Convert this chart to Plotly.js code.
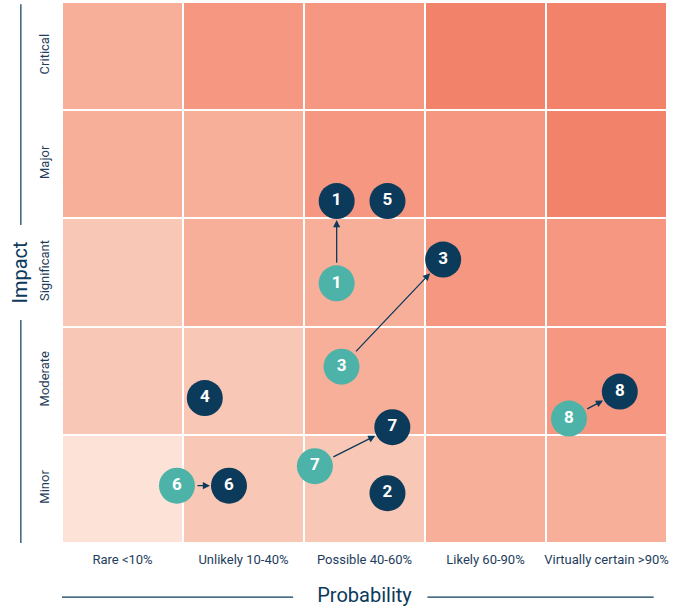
<!DOCTYPE html>
<html>
<head>
<meta charset="utf-8">
<script src="https://cdn.plot.ly/plotly-3.0.1.min.js"></script>
<style>html,body{margin:0;padding:0;background:#fff}#chart{width:680px;height:607px}</style>
</head>
<body>
<div id="chart"></div>
<script>
// Categories
const probabilityLabels = ["Rare <10%", "Unlikely 10-40%", "Possible 40-60%", "Likely 60-90%", "Virtually certain >90%"];
const impactLabels = ["Minor", "Moderate", "Significant", "Major", "Critical"];
// Risk level per cell (rows: Minor..Critical, cols: Rare..Virtually certain)
const riskLevels = [
  [0, 1, 1, 2, 2],
  [1, 1, 2, 2, 3],
  [1, 2, 2, 3, 3],
  [2, 2, 3, 3, 4],
  [2, 3, 3, 4, 4]
];
// Previous (teal) risk positions
const prevIds = ["1", "3", "6", "7", "8"];
const prevX = [2.27, 2.31, 0.95, 2.09, 4.19];
const prevY = [2.40, 1.63, 0.53, 0.71, 1.15];
// Current (navy) risk positions
const currIds = ["1", "5", "3", "4", "6", "7", "2", "8"];
const currX = [2.27, 2.69, 3.15, 1.18, 1.38, 2.73, 2.69, 4.61];
const currY = [3.16, 3.16, 2.62, 1.34, 0.53, 1.07, 0.46, 1.40];

const navy = "#0B3A5B";
const teal = "#4DB3A9";
const cellColors = ["#FCE2D7", "#F9C7B5", "#F7AF9A", "#F69782", "#F3826B"];

const cx = probabilityLabels.map((_, i) => i + 0.5);
const cy = impactLabels.map((_, i) => i + 0.5);

const heat = {
  type: "heatmap", x: cx, y: cy, z: riskLevels, zmin: 0, zmax: 4,
  colorscale: cellColors.map((c, i) => [i / 4, c]),
  showscale: false, xgap: 2, ygap: 2, hoverinfo: "skip"
};
const numFont = {family: "Roboto, sans-serif", size: 17, color: "#ffffff", weight: 700};
const prev = {
  type: "scatter", mode: "markers+text", x: prevX, y: prevY, text: prevIds,
  textposition: "middle center", textfont: numFont,
  marker: {size: 36, color: teal, line: {width: 0}}, hoverinfo: "text", showlegend: false
};
const curr = {
  type: "scatter", mode: "markers+text", x: currX, y: currY, text: currIds,
  textposition: "middle center", textfont: numFont,
  marker: {size: 36, color: navy, line: {width: 0}}, hoverinfo: "text", showlegend: false
};

// Arrows from previous to current position for matching ids
const annotations = [];
prevIds.forEach((id, i) => {
  const j = currIds.indexOf(id);
  annotations.push({
    x: currX[j], y: currY[j], ax: prevX[i], ay: prevY[i],
    xref: "x", yref: "y", axref: "x", ayref: "y",
    showarrow: true, arrowhead: 2, arrowsize: 1.1, arrowwidth: 1.3,
    arrowcolor: navy, standoff: 19, startstandoff: 19, text: ""
  });
});

const tickFont = {family: "Roboto, sans-serif", size: 13, color: "#1E3D5C", stretch: "condensed"};
const layout = {
  width: 680, height: 607,
  margin: {l: 62, r: 13, t: 2, b: 64},
  paper_bgcolor: "#ffffff", plot_bgcolor: "#ffffff",
  showlegend: false,
  xaxis: {
    range: [0, 5], tickvals: cx, ticktext: probabilityLabels, tickfont: tickFont,
    showgrid: false, zeroline: false, showline: false, ticks: "", fixedrange: true,
    ticklabelstandoff: 7,
    title: {text: "Probability", font: {family: "Roboto, sans-serif", size: 20, color: navy}, standoff: 24}
  },
  yaxis: {
    range: [0, 5], tickvals: cy, ticktext: impactLabels, tickfont: tickFont, tickangle: -90,
    showgrid: false, zeroline: false, showline: false, ticks: "", fixedrange: true,
    ticklabelstandoff: 9,
    title: {text: "Impact", font: {family: "Roboto, sans-serif", size: 20, color: navy}, standoff: 4}
  },
  annotations: annotations,
  shapes: [
    {type: "line", xref: "paper", yref: "paper", x0: 0.0, x1: 0.382, y0: -0.1, y1: -0.1, line: {color: navy, width: 1.2}},
    {type: "line", xref: "paper", yref: "paper", x0: 0.604, x1: 0.978, y0: -0.1, y1: -0.1, line: {color: navy, width: 1.2}},
    {type: "line", xref: "paper", yref: "paper", x0: -0.068, x1: -0.068, y0: 0.588, y1: 0.996, line: {color: navy, width: 1.2}},
    {type: "line", xref: "paper", yref: "paper", x0: -0.068, x1: -0.068, y0: 0.0, y1: 0.412, line: {color: navy, width: 1.2}}
  ]
};
Plotly.newPlot("chart", [heat, prev, curr], layout, {displayModeBar: false, staticPlot: true});
</script>
</body>
</html>
